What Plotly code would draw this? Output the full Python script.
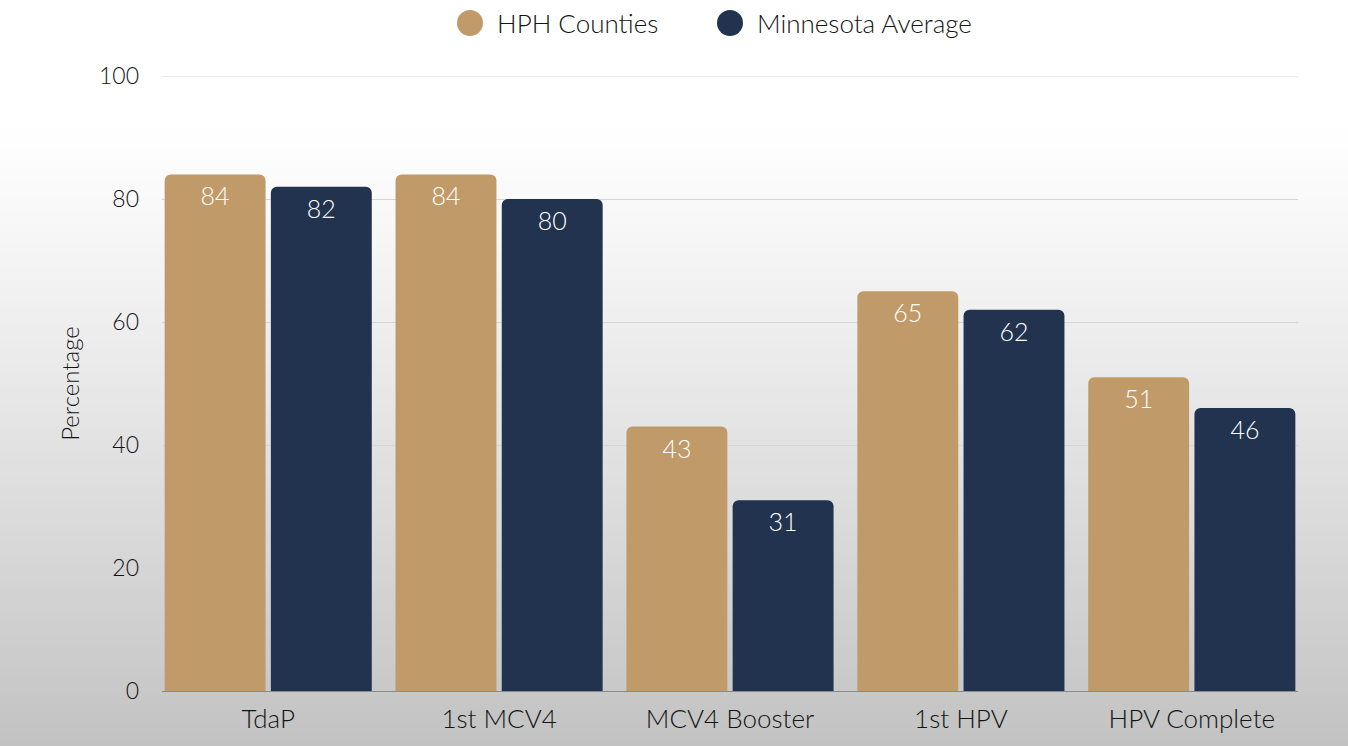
import plotly.graph_objects as go

categories = ["TdaP", "1st MCV4", "MCV4 Booster", "1st HPV", "HPV Complete"]
series_names = ["HPH Counties", "Minnesota Average"]
hph_values = [84, 84, 43, 65, 51]
mn_values = [82, 80, 31, 62, 46]
y_ticks = [0, 20, 40, 60, 80, 100]

colors = ["#c09b69", "#21334f"]
FONT = "Lato"
TXT = "#141414"
W, H = 1348, 746
ML, MR, MT, MB = 162, 50, 76, 55
PW, PH = W - ML - MR, H - MT - MB

fig = go.Figure()
for name, vals, col in zip(series_names, [hph_values, mn_values], colors):
    fig.add_trace(go.Bar(
        x=categories, y=vals, name=name, marker=dict(color=col, line=dict(width=0)),
        text=[str(v) for v in vals], textposition="inside", insidetextanchor="end",
        textfont=dict(color="white", size=25, family=FONT, weight=300), showlegend=False,
        cliponaxis=False,
    ))

# background gradient (styling only)
shapes = []
N = 90
top_px, bot_px = 120, H
for i in range(N):
    p0 = top_px + (bot_px - top_px) * i / N
    p1 = top_px + (bot_px - top_px) * (i + 1) / N + 1
    t = (i + 0.5) / N
    c = int(round(255 - (255 - 194) * t ** 1.15))
    shapes.append(dict(type="rect", xref="paper", yref="paper",
                       x0=-ML / PW - 0.01, x1=(W - ML) / PW + 0.01,
                       y0=(H - MB - p1) / PH, y1=(H - MB - p0) / PH,
                       fillcolor=f"rgb({c},{c},{c})", line=dict(width=0), layer="below"))

# top gridline at 100 (edge of range)
shapes.append(dict(type="line", xref="paper", yref="y", x0=0, x1=1, y0=y_ticks[-1], y1=y_ticks[-1],
                   line=dict(color="#d6d6d6", width=1), layer="below"))

# manual legend with large circles
legend_x = [470, 730]
annotations = []
for name, col, cx in zip(series_names, colors, legend_x):
    cy = 23
    r = 13
    shapes.append(dict(type="circle", xref="paper", yref="paper",
                       x0=(cx - r - ML) / PW, x1=(cx + r - ML) / PW,
                       y0=(H - MB - (cy + r)) / PH, y1=(H - MB - (cy - r)) / PH,
                       fillcolor=col, line=dict(width=0)))
    annotations.append(dict(text=name, xref="paper", yref="paper",
                            x=(cx + r + 12 - ML) / PW, y=(H - MB - cy) / PH,
                            xanchor="left", yanchor="middle", showarrow=False,
                            font=dict(size=26, color=TXT, family=FONT, weight=300)))

fig.update_layout(
    width=W, height=H,
    margin=dict(l=ML, r=MR, t=MT, b=MB),
    paper_bgcolor="white", plot_bgcolor="rgba(0,0,0,0)",
    barmode="group", bargap=0.08, bargroupgap=0.05, barcornerradius=6,
    font=dict(family=FONT, size=24, color=TXT, weight=300),
    shapes=shapes, annotations=annotations, showlegend=False,
)
fig.update_xaxes(range=[-0.46, 4.46], showgrid=False, ticks="", showline=False,
                 zeroline=False, ticklabelstandoff=10,
                 tickfont=dict(size=26, color=TXT, family=FONT, weight=300))
fig.update_yaxes(range=[0, 100], tickvals=y_ticks, showgrid=True, gridcolor="#d6d6d6",
                 gridwidth=1, zeroline=True, zerolinecolor="#8a8a8a", zerolinewidth=1,
                 ticks="", ticklabelstandoff=22,
                 tickfont=dict(size=23, color=TXT, family=FONT, weight=300),
                 title=dict(text="Percentage", font=dict(size=24, color=TXT, family=FONT, weight=300),
                            standoff=12))

fig.write_html("out.html", config={"displayModeBar": False},
               post_script="document.body.style.margin='0';document.body.style.overflow='hidden';")
